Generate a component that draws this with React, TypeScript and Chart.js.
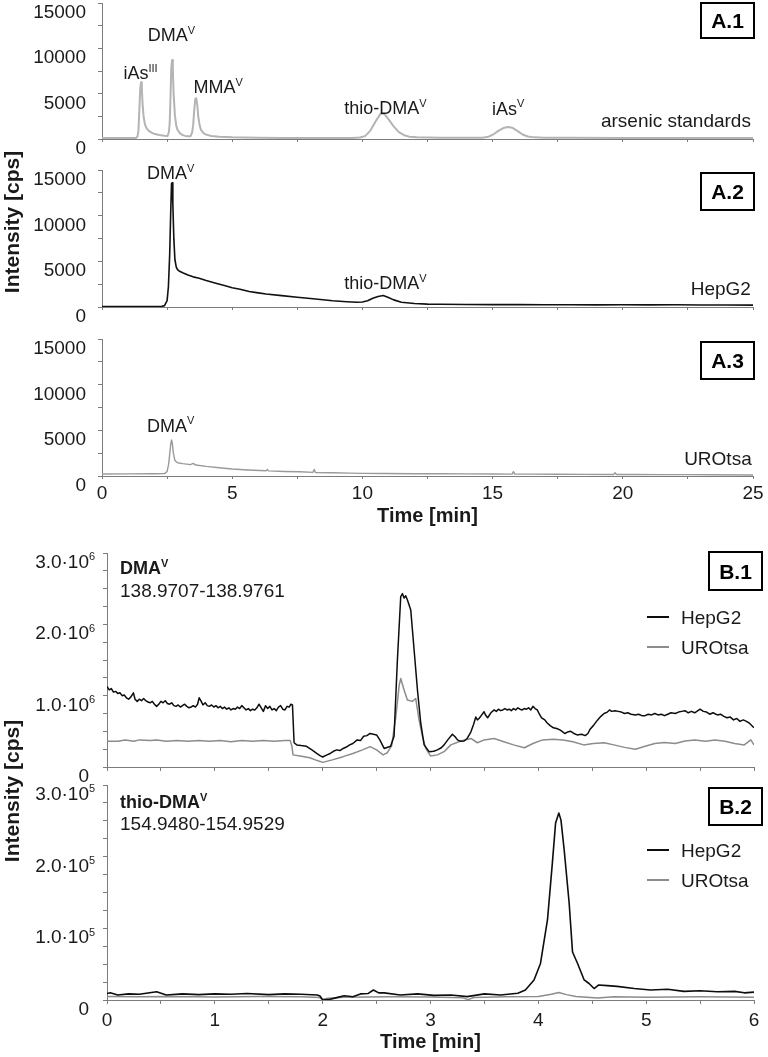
import React, { useEffect, useRef } from 'react';
import { Chart, registerables } from 'chart.js';

Chart.register(...registerables);

const FONT = '"Liberation Sans", Arial, Helvetica, sans-serif';
Chart.defaults.font.family = FONT;
Chart.defaults.color = '#1a1a1a';

// ---------------- DATA ----------------
// Panel A.1 – arsenic standards (time in min, intensity in cps)
const a1Time = [0, 0.5, 1.0, 1.3, 1.36, 1.40, 1.44, 1.47, 1.50, 1.53, 1.56, 1.60, 1.65, 1.72, 1.80, 1.90, 2.00, 2.20, 2.40, 2.52, 2.57, 2.60, 2.63, 2.66, 2.69, 2.72, 2.75, 2.80, 2.85, 2.90, 3.00, 3.10, 3.20, 3.30, 3.40, 3.46, 3.50, 3.54, 3.58, 3.62, 3.66, 3.70, 3.75, 3.80, 3.90, 4.00, 4.20, 4.50, 5.00, 6.00, 7.00, 8.00, 9.00, 9.60, 9.90, 10.10, 10.30, 10.50, 10.70, 10.85, 11.00, 11.20, 11.40, 11.60, 11.80, 12.10, 13.00, 14.00, 14.60, 14.85, 15.05, 15.25, 15.45, 15.60, 15.75, 15.95, 16.15, 16.35, 16.60, 17.00, 18.00, 20.00, 22.00, 25.00];
const a1Standards = [100, 100, 100, 100, 250, 900, 3600, 5600, 6250, 5500, 3800, 2400, 1600, 1150, 900, 700, 580, 450, 360, 330, 800, 1800, 4500, 7800, 8700, 7700, 5000, 2600, 1500, 1000, 620, 430, 340, 300, 310, 700, 1500, 3100, 4400, 4500, 3700, 2400, 1500, 1000, 650, 480, 340, 250, 180, 130, 110, 100, 100, 110, 160, 320, 900, 1900, 2800, 2750, 2200, 1400, 750, 420, 260, 180, 150, 130, 140, 250, 550, 950, 1250, 1320, 1250, 900, 500, 280, 180, 140, 130, 120, 110, 110];

// Panel A.2 – HepG2
const a2Time = [0, 1, 2, 2.3, 2.4, 2.5, 2.55, 2.6, 2.64, 2.67, 2.69, 2.72, 2.76, 2.8, 2.85, 2.9, 2.96, 3.1, 3.3, 3.5, 3.73, 4.0, 4.37, 4.7, 5.0, 5.3, 5.65, 6.0, 6.3, 6.9, 7.5, 8.2, 8.86, 9.4, 9.8, 10.0, 10.2, 10.4, 10.6, 10.8, 11.0, 11.2, 11.5, 12.0, 12.5, 13, 14, 15, 16, 17, 18, 19, 20, 21, 22, 23, 24, 25];
const a2HepG2 = [50, 50, 60, 70, 150, 700, 2200, 5800, 10500, 13500, 13600, 11300, 7400, 5200, 4400, 4100, 3950, 3750, 3500, 3300, 3150, 2900, 2600, 2350, 2100, 1950, 1700, 1550, 1420, 1250, 1060, 870, 690, 580, 520, 540, 680, 950, 1150, 1250, 1050, 780, 520, 380, 320, 300, 280, 260, 260, 240, 250, 230, 240, 230, 240, 220, 220, 210];

// Panel A.3 – UROtsa
const a3Time = [0, 1, 2, 2.4, 2.5, 2.56, 2.6, 2.64, 2.67, 2.7, 2.74, 2.8, 2.9, 3.1, 3.4, 3.5, 3.6, 4.0, 4.5, 5.0, 5.6, 6.3, 6.35, 6.4, 7.0, 7.6, 8.1, 8.15, 8.2, 8.86, 9.5, 10.0, 10.8, 12, 13, 14, 15, 15.75, 15.8, 15.85, 16.5, 17.5, 18.5, 19.65, 19.7, 19.75, 20.5, 21.5, 22.5, 23.5, 25];
const a3UROtsa = [220, 230, 240, 260, 500, 1300, 2400, 3500, 3950, 3600, 2500, 1700, 1450, 1350, 1250, 1380, 1200, 1050, 900, 760, 660, 580, 700, 560, 500, 460, 400, 720, 390, 350, 320, 290, 280, 250, 240, 230, 220, 210, 470, 210, 200, 190, 180, 170, 360, 170, 160, 150, 150, 140, 110];

// Panel B.1 – DMA(V) extracted ion trace, [time min, intensity in 10^6 cps]
const b1HepG2: [number, number][] = [
  [0, 1.13], [0.02, 1.08], [0.04, 1.10], [0.06, 1.05], [0.08, 1.06], [0.1, 1.03], [0.12, 1.04], [0.14, 1.00], [0.16, 1.01], [0.18, 0.97],
  [0.2, 0.95], [0.22, 0.98], [0.245, 1.04], [0.26, 0.95], [0.28, 0.92], [0.3, 0.95], [0.32, 0.93], [0.34, 0.96], [0.36, 0.93], [0.38, 0.91],
  [0.4, 0.90], [0.42, 0.92], [0.44, 0.88], [0.46, 0.85], [0.48, 0.88], [0.5, 0.92], [0.52, 0.90], [0.54, 0.93], [0.56, 0.89], [0.58, 0.88],
  [0.6, 0.90], [0.62, 0.86], [0.64, 0.85], [0.66, 0.87], [0.68, 0.84], [0.7, 0.86], [0.72, 0.88], [0.74, 0.85], [0.76, 0.83], [0.78, 0.84],
  [0.8, 0.86], [0.82, 0.84], [0.84, 0.88], [0.855, 0.97], [0.87, 0.93], [0.89, 0.87], [0.91, 0.90], [0.93, 0.86], [0.95, 0.85], [0.97, 0.87],
  [0.99, 0.84], [1.01, 0.86], [1.03, 0.83], [1.05, 0.85], [1.07, 0.82], [1.09, 0.84], [1.11, 0.81], [1.13, 0.83], [1.15, 0.80], [1.17, 0.82],
  [1.19, 0.81], [1.21, 0.84], [1.23, 0.82], [1.25, 0.86], [1.27, 0.83], [1.29, 0.80], [1.31, 0.82], [1.33, 0.79], [1.35, 0.81], [1.37, 0.80],
  [1.39, 0.83], [1.41, 0.88], [1.43, 0.83], [1.45, 0.78], [1.47, 0.86], [1.49, 0.82], [1.51, 0.85], [1.53, 0.80], [1.55, 0.82], [1.57, 0.79],
  [1.59, 0.84], [1.61, 0.86], [1.63, 0.81], [1.65, 0.80], [1.67, 0.85], [1.69, 0.84], [1.705, 0.88], [1.72, 0.87], [1.735, 0.34], [1.76, 0.31],
  [1.8, 0.30], [1.85, 0.29], [1.9, 0.24], [1.945, 0.19], [1.975, 0.16], [2.0, 0.14], [2.04, 0.17], [2.07, 0.19], [2.1, 0.22], [2.13, 0.24],
  [2.16, 0.23], [2.19, 0.26], [2.22, 0.28], [2.25, 0.31], [2.28, 0.33], [2.32, 0.38], [2.35, 0.37], [2.38, 0.43], [2.41, 0.44], [2.44, 0.47],
  [2.47, 0.46], [2.5, 0.45], [2.53, 0.38], [2.57, 0.26], [2.63, 0.29], [2.662, 0.43], [2.693, 1.50], [2.724, 2.39], [2.74, 2.43], [2.755, 2.37],
  [2.77, 2.40], [2.786, 2.34], [2.817, 2.20], [2.848, 1.64], [2.879, 1.08], [2.91, 0.61], [2.941, 0.31], [2.987, 0.215], [3.03, 0.22], [3.064, 0.24],
  [3.1, 0.27], [3.126, 0.31], [3.16, 0.38], [3.203, 0.46], [3.23, 0.42], [3.25, 0.38], [3.28, 0.36], [3.312, 0.365], [3.34, 0.40], [3.374, 0.49],
  [3.4, 0.60], [3.42, 0.70], [3.435, 0.66], [3.45, 0.68], [3.47, 0.72], [3.497, 0.775], [3.51, 0.73], [3.53, 0.69], [3.56, 0.76], [3.59, 0.80],
  [3.61, 0.78], [3.63, 0.81], [3.65, 0.79], [3.67, 0.80], [3.69, 0.82], [3.71, 0.80], [3.73, 0.81], [3.75, 0.79], [3.77, 0.82], [3.79, 0.80],
  [3.81, 0.83], [3.83, 0.81], [3.85, 0.80], [3.87, 0.82], [3.89, 0.81], [3.91, 0.83], [3.93, 0.80], [3.95, 0.85], [3.97, 0.82], [3.99, 0.80],
  [4.01, 0.74], [4.03, 0.69], [4.06, 0.66], [4.08, 0.62], [4.11, 0.58], [4.14, 0.55], [4.17, 0.54], [4.2, 0.52], [4.22, 0.50], [4.245, 0.47],
  [4.27, 0.49], [4.3, 0.50], [4.33, 0.47], [4.36, 0.45], [4.4, 0.46], [4.435, 0.44], [4.46, 0.47], [4.48, 0.53], [4.51, 0.58], [4.55, 0.66],
  [4.58, 0.71], [4.61, 0.75], [4.64, 0.77], [4.66, 0.80], [4.68, 0.78], [4.71, 0.79], [4.74, 0.78], [4.77, 0.77], [4.8, 0.75], [4.83, 0.76],
  [4.86, 0.74], [4.9, 0.73], [4.93, 0.74], [4.96, 0.72], [4.99, 0.72], [5.02, 0.74], [5.05, 0.73], [5.08, 0.75], [5.11, 0.73], [5.14, 0.74],
  [5.17, 0.72], [5.2, 0.74], [5.23, 0.76], [5.27, 0.75], [5.3, 0.77], [5.33, 0.78], [5.36, 0.79], [5.39, 0.76], [5.42, 0.78], [5.45, 0.76],
  [5.48, 0.79], [5.5, 0.81], [5.53, 0.78], [5.56, 0.77], [5.59, 0.74], [5.62, 0.76], [5.66, 0.73], [5.69, 0.74], [5.72, 0.71], [5.75, 0.69],
  [5.78, 0.70], [5.81, 0.66], [5.84, 0.68], [5.87, 0.64], [5.9, 0.66], [5.93, 0.64], [5.96, 0.61], [6.0, 0.55],
];
const b1UroTime = [0, 0.1, 0.17, 0.25, 0.3, 0.4, 0.46, 0.55, 0.65, 0.75, 0.85, 0.95, 1.05, 1.15, 1.25, 1.35, 1.45, 1.55, 1.65, 1.7, 1.715, 1.725, 1.79, 1.88, 1.95, 2.0, 2.09, 2.19, 2.28, 2.37, 2.44, 2.5, 2.56, 2.6, 2.64, 2.678, 2.71, 2.724, 2.755, 2.786, 2.832, 2.863, 2.894, 2.925, 2.956, 3.0, 3.064, 3.126, 3.188, 3.281, 3.374, 3.435, 3.497, 3.59, 3.68, 3.77, 3.87, 3.95, 4.04, 4.14, 4.23, 4.32, 4.42, 4.51, 4.61, 4.7, 4.8, 4.9, 4.99, 5.08, 5.17, 5.27, 5.36, 5.45, 5.55, 5.64, 5.73, 5.82, 5.91, 5.97, 6.0];
const b1UROtsa = [0.36, 0.36, 0.38, 0.36, 0.38, 0.37, 0.38, 0.36, 0.37, 0.36, 0.37, 0.36, 0.37, 0.355, 0.37, 0.36, 0.37, 0.36, 0.37, 0.37, 0.29, 0.17, 0.155, 0.13, 0.09, 0.065, 0.10, 0.145, 0.19, 0.24, 0.285, 0.24, 0.17, 0.20, 0.30, 0.70, 1.15, 1.24, 1.08, 0.94, 0.92, 0.96, 0.66, 0.43, 0.26, 0.155, 0.17, 0.215, 0.31, 0.365, 0.40, 0.34, 0.38, 0.40, 0.355, 0.31, 0.27, 0.33, 0.38, 0.39, 0.38, 0.355, 0.31, 0.33, 0.34, 0.31, 0.275, 0.25, 0.29, 0.33, 0.345, 0.33, 0.365, 0.38, 0.36, 0.38, 0.36, 0.33, 0.31, 0.38, 0.31];

// Panel B.2 – thio-DMA(V) extracted ion trace (intensity in 10^5 cps)
const b2HepTime = [0, 0.03, 0.1, 0.2, 0.3, 0.46, 0.55, 0.7, 0.85, 1.0, 1.15, 1.3, 1.5, 1.65, 1.8, 1.95, 1.975, 2.0, 2.07, 2.13, 2.2, 2.28, 2.35, 2.42, 2.47, 2.52, 2.57, 2.72, 2.88, 3.03, 3.19, 3.34, 3.5, 3.65, 3.81, 3.88, 3.96, 4.02, 4.085, 4.13, 4.16, 4.19, 4.21, 4.24, 4.286, 4.317, 4.364, 4.425, 4.47, 4.517, 4.56, 4.64, 4.73, 4.89, 5.04, 5.2, 5.35, 5.5, 5.66, 5.82, 5.91, 6.0];
const b2HepG2 = [0.09, 0.10, 0.07, 0.085, 0.08, 0.115, 0.07, 0.085, 0.075, 0.085, 0.08, 0.09, 0.075, 0.085, 0.08, 0.07, 0.056, 0.0, 0.01, 0.033, 0.06, 0.045, 0.085, 0.09, 0.14, 0.10, 0.10, 0.07, 0.085, 0.065, 0.07, 0.047, 0.085, 0.07, 0.095, 0.14, 0.28, 0.51, 1.12, 1.91, 2.47, 2.61, 2.51, 2.09, 1.35, 0.67, 0.51, 0.28, 0.23, 0.16, 0.21, 0.20, 0.19, 0.16, 0.14, 0.15, 0.12, 0.13, 0.115, 0.12, 0.10, 0.11];
const b2UroTime = [0, 0.3, 0.6, 1.0, 1.4, 1.8, 1.97, 2.0, 2.05, 2.2, 2.6, 3.0, 3.3, 3.35, 3.4, 3.7, 4.0, 4.12, 4.19, 4.26, 4.35, 4.55, 4.7, 5.0, 5.5, 6.0];
const b2UROtsa = [0.05, 0.045, 0.05, 0.042, 0.048, 0.045, 0.035, 0.01, 0.025, 0.04, 0.045, 0.042, 0.03, 0.005, 0.035, 0.045, 0.05, 0.08, 0.105, 0.075, 0.05, 0.028, 0.045, 0.04, 0.045, 0.04];

// Tick labels
const aYTicks = [15000, 10000, 5000, 0];
const b1YTicks = [3, 2, 1, 0];
const b2YTicks = [3, 2, 1, 0];

// ---------------- DRAWING HELPERS ----------------
const W = 768;
const H = 1057;
const AXIS = '#7c7c7c';
const TXT = '#1a1a1a';

type Part = { t: string; sup?: boolean };
type Align = 'left' | 'center' | 'right' | 'mainRight';

function drawRich(ctx: CanvasRenderingContext2D, x: number, y: number, parts: Part[], size: number, bold = false, align: Align = 'left', color = TXT) {
  const wt = bold ? 'bold ' : '';
  const mainF = `${wt}${size}px ${FONT}`;
  const supSize = Math.round(size * 0.6);
  const supF = `${wt}${supSize}px ${FONT}`;
  const widths = parts.map((p) => {
    ctx.font = p.sup ? supF : mainF;
    return ctx.measureText(p.t).width;
  });
  const total = widths.reduce((a, b) => a + b, 0);
  const mainW = parts.reduce((a, p, i) => a + (p.sup ? 0 : widths[i]), 0);
  let sx = x;
  if (align === 'center') sx = x - total / 2;
  else if (align === 'right') sx = x - total;
  else if (align === 'mainRight') sx = x - mainW;
  const base = y + size * 0.36;
  ctx.save();
  ctx.fillStyle = color;
  ctx.textAlign = 'left';
  ctx.textBaseline = 'alphabetic';
  parts.forEach((p, i) => {
    ctx.font = p.sup ? supF : mainF;
    ctx.fillText(p.t, sx, p.sup ? base - size * 0.4 : base);
    sx += widths[i];
  });
  ctx.restore();
}

function pts(t: number[], v: number[]) {
  return t.map((x, i) => ({ x, y: v[i] }));
}

interface Series { t: number[]; v: number[]; color: string; width: number }
interface Note { x: number; y: number; parts: Part[]; size: number; align: Align; bold?: boolean }
interface PanelDef {
  area: { left: number; right: number; top: number; bottom: number };
  xAxisH: number;
  xMax: number;
  xStep: number;
  xLabelEvery: number;
  showXLabels: boolean;
  xTickLen: number;
  xLabelPad: number;
  yMax: number;
  yStep: number;
  yLabels: { v: number; parts: Part[] }[];
  yLabelRight: number;
  yLabelDy: number;
  series: Series[];
  notes: Note[];
  box: { x: number; y: number; w: number; h: number; text: string };
  info?: { x: number; y: number; parts: Part[]; size: number; bold?: boolean }[];
  legend?: { x: number; ys: number[]; items: { label: string; color: string }[] };
  yTitle?: { x: number; y: number };
}

const YW = 40;

function buildConfig(d: PanelDef): any {
  const decor = {
    id: 'decor',
    afterDraw(chart: any) {
      const ctx: CanvasRenderingContext2D = chart.ctx;
      const xs = chart.scales.x;
      const ys = chart.scales.y;
      d.yLabels.forEach((l) => {
        drawRich(ctx, d.yLabelRight, ys.getPixelForValue(l.v) + d.yLabelDy, l.parts, 19, false, 'mainRight', TXT);
      });
      d.notes.forEach((n) => {
        drawRich(ctx, xs.getPixelForValue(n.x), ys.getPixelForValue(n.y), n.parts, n.size, !!n.bold, n.align, TXT);
      });
      ctx.save();
      ctx.strokeStyle = '#000';
      ctx.lineWidth = 2;
      ctx.strokeRect(d.box.x, d.box.y, d.box.w, d.box.h);
      ctx.restore();
      drawRich(ctx, d.box.x + d.box.w / 2, d.box.y + d.box.h / 2, [{ t: d.box.text }], 21, true, 'center', '#000');
      (d.info || []).forEach((t) => drawRich(ctx, t.x, t.y, t.parts, t.size, !!t.bold, 'left', TXT));
      if (d.legend) {
        const lg = d.legend;
        lg.items.forEach((it, i) => {
          ctx.save();
          ctx.strokeStyle = it.color;
          ctx.lineWidth = 2;
          ctx.beginPath();
          ctx.moveTo(lg.x, lg.ys[i]);
          ctx.lineTo(lg.x + 22, lg.ys[i]);
          ctx.stroke();
          ctx.restore();
          drawRich(ctx, lg.x + 34, lg.ys[i], [{ t: it.label }], 19, false, 'left', TXT);
        });
      }
      if (d.yTitle) {
        ctx.save();
        ctx.translate(d.yTitle.x, d.yTitle.y);
        ctx.rotate(-Math.PI / 2);
        ctx.font = `bold 21px ${FONT}`;
        ctx.fillStyle = TXT;
        ctx.textAlign = 'center';
        ctx.textBaseline = 'middle';
        ctx.fillText('Intensity [cps]', 0, 0);
        ctx.restore();
      }
    },
  };

  return {
    type: 'line',
    data: {
      datasets: d.series.map((s) => ({
        data: pts(s.t, s.v),
        borderColor: s.color,
        borderWidth: s.width,
        pointRadius: 0,
        fill: false,
        tension: 0,
        borderJoinStyle: 'round',
      })),
    },
    options: {
      responsive: false,
      animation: false,
      devicePixelRatio: 1,
      events: [],
      layout: {
        padding: {
          left: d.area.left - YW,
          right: W - d.area.right,
          top: d.area.top,
          bottom: H - d.area.bottom - d.xAxisH,
        },
      },
      plugins: { legend: { display: false }, tooltip: { enabled: false } },
      scales: {
        x: {
          type: 'linear',
          min: 0,
          max: d.xMax,
          afterFit: (s: any) => { s.height = d.xAxisH; },
          ticks: {
            display: d.showXLabels,
            stepSize: d.xStep,
            autoSkip: false,
            maxRotation: 0,
            padding: d.xLabelPad,
            color: TXT,
            font: { size: 19 },
            callback: (v: number) => (Math.abs(v / d.xLabelEvery - Math.round(v / d.xLabelEvery)) < 1e-6 ? String(Math.round(v)) : ''),
          },
          grid: { display: true, drawOnChartArea: false, drawTicks: true, tickLength: d.xTickLen, color: AXIS, lineWidth: 1 },
          border: { display: true, color: AXIS, width: 1 },
          title: {
            display: d.showXLabels,
            text: 'Time [min]',
            color: TXT,
            font: { size: 20, weight: 'bold' },
            padding: { top: 0, bottom: 0 },
          },
        },
        y: {
          type: 'linear',
          min: 0,
          max: d.yMax,
          afterFit: (s: any) => { s.width = YW; },
          ticks: { display: false, stepSize: d.yStep },
          grid: { display: true, drawOnChartArea: false, drawTicks: true, tickLength: 4, color: AXIS, lineWidth: 1 },
          border: { display: true, color: AXIS, width: 1 },
        },
      },
    },
    plugins: [decor],
  };
}

// ---------------- PANEL DEFINITIONS ----------------
const DMA: Part[] = [{ t: 'DMA' }, { t: 'V', sup: true }];
const THIO: Part[] = [{ t: 'thio-DMA' }, { t: 'V', sup: true }];

const aLabels = aYTicks.map((v) => ({ v, parts: [{ t: String(v) }] }));
const b1Labels = b1YTicks.map((v) => ({ v, parts: v === 0 ? [{ t: '0' }] : [{ t: `${v.toFixed(1)}·10` }, { t: '6', sup: true }] }));
const b2Labels = b2YTicks.map((v) => ({ v, parts: v === 0 ? [{ t: '0' }] : [{ t: `${v.toFixed(1)}·10` }, { t: '5', sup: true }] }));

const aCommon = {
  xMax: 25, xStep: 2.5, xLabelEvery: 5, xTickLen: 3, xLabelPad: 3,
  yMax: 15000, yStep: 2500, yLabels: aLabels, yLabelRight: 86, yLabelDy: 8,
};

const panelA1: PanelDef = {
  ...aCommon,
  area: { left: 102, right: 753, top: 3, bottom: 139 },
  xAxisH: 6,
  showXLabels: false,
  series: [{ t: a1Time, v: a1Standards, color: '#b4b4b4', width: 2 }],
  notes: [
    { x: 1.48, y: 7340, parts: [{ t: 'iAs' }, { t: 'III', sup: true }], size: 18, align: 'center' },
    { x: 2.67, y: 11500, parts: DMA, size: 18, align: 'center' },
    { x: 4.46, y: 5800, parts: [{ t: 'MMA' }, { t: 'V', sup: true }], size: 18, align: 'center' },
    { x: 10.88, y: 3450, parts: THIO, size: 18, align: 'center' },
    { x: 15.6, y: 3400, parts: [{ t: 'iAs' }, { t: 'V', sup: true }], size: 18, align: 'center' },
    { x: 24.92, y: 2080, parts: [{ t: 'arsenic standards' }], size: 19, align: 'right' },
  ],
  box: { x: 701, y: 3, w: 53, h: 35, text: 'A.1' },
};

const panelA2: PanelDef = {
  ...aCommon,
  area: { left: 102, right: 753, top: 170, bottom: 307 },
  xAxisH: 6,
  showXLabels: false,
  series: [{ t: a2Time, v: a2HepG2, color: '#111111', width: 1.6 }],
  notes: [
    { x: 2.64, y: 14670, parts: DMA, size: 18, align: 'center' },
    { x: 10.88, y: 2630, parts: THIO, size: 18, align: 'center' },
    { x: 24.92, y: 2080, parts: [{ t: 'HepG2' }], size: 19, align: 'right' },
  ],
  box: { x: 701, y: 173, w: 53, h: 37, text: 'A.2' },
  yTitle: { x: 13, y: 222 },
};

const panelA3: PanelDef = {
  ...aCommon,
  area: { left: 102, right: 753, top: 339, bottom: 476 },
  xAxisH: 52,
  showXLabels: true,
  series: [{ t: a3Time, v: a3UROtsa, color: '#9a9a9a', width: 1.4 }],
  notes: [
    { x: 2.64, y: 5580, parts: DMA, size: 18, align: 'center' },
    { x: 24.95, y: 1970, parts: [{ t: 'UROtsa' }], size: 19, align: 'right' },
  ],
  box: { x: 701, y: 342, w: 53, h: 37, text: 'A.3' },
};

const bCommon = {
  xMax: 6, xStep: 0.5, xLabelEvery: 1, xTickLen: 4, xLabelPad: 5,
  yMax: 3, yStep: 0.25, yLabelRight: 89, yLabelDy: 8,
};

const panelB1: PanelDef = {
  ...bCommon,
  area: { left: 107, right: 754, top: 553, bottom: 767 },
  xAxisH: 6,
  showXLabels: false,
  yLabels: b1Labels,
  series: [
    { t: b1HepG2.map((p) => p[0]), v: b1HepG2.map((p) => p[1]), color: '#0d0d0d', width: 1.5 },
    { t: b1UroTime, v: b1UROtsa, color: '#8c8c8c', width: 1.5 },
  ],
  notes: [],
  box: { x: 709, y: 552, w: 53, h: 38, text: 'B.1' },
  info: [
    { x: 120, y: 568, parts: [{ t: 'DMA' }, { t: 'V', sup: true }], size: 18, bold: true },
    { x: 120, y: 590, parts: [{ t: '138.9707-138.9761' }], size: 19 },
  ],
  legend: { x: 647, ys: [617, 647], items: [{ label: 'HepG2', color: '#0d0d0d' }, { label: 'UROtsa', color: '#8c8c8c' }] },
  yTitle: { x: 13, y: 791 },
};

const panelB2: PanelDef = {
  ...bCommon,
  area: { left: 107, right: 754, top: 785, bottom: 1000 },
  xAxisH: 54,
  showXLabels: true,
  yLabels: b2Labels,
  series: [
    { t: b2HepTime, v: b2HepG2, color: '#0d0d0d', width: 1.6 },
    { t: b2UroTime, v: b2UROtsa, color: '#8c8c8c', width: 1.5 },
  ],
  notes: [],
  box: { x: 709, y: 788, w: 53, h: 37, text: 'B.2' },
  info: [
    { x: 120, y: 802, parts: [{ t: 'thio-DMA' }, { t: 'V', sup: true }], size: 18, bold: true },
    { x: 120, y: 823, parts: [{ t: '154.9480-154.9529' }], size: 19 },
  ],
  legend: { x: 647, ys: [850, 880], items: [{ label: 'HepG2', color: '#0d0d0d' }, { label: 'UROtsa', color: '#8c8c8c' }] },
};

function Panel({ def }: { def: PanelDef }) {
  const ref = useRef<HTMLCanvasElement>(null);
  useEffect(() => {
    if (!ref.current) return;
    const chart = new Chart(ref.current, buildConfig(def));
    return () => chart.destroy();
  }, [def]);
  return (
    <canvas
      ref={ref}
      width={W}
      height={H}
      style={{ position: 'absolute', left: 0, top: 0, width: W, height: H, pointerEvents: 'none' }}
    />
  );
}

export default function App() {
  return (
    <div style={{ position: 'absolute', left: 0, top: 0, width: W, height: H, background: '#ffffff', overflow: 'hidden' }}>
      <Panel def={panelA1} />
      <Panel def={panelA2} />
      <Panel def={panelA3} />
      <Panel def={panelB1} />
      <Panel def={panelB2} />
    </div>
  );
}
